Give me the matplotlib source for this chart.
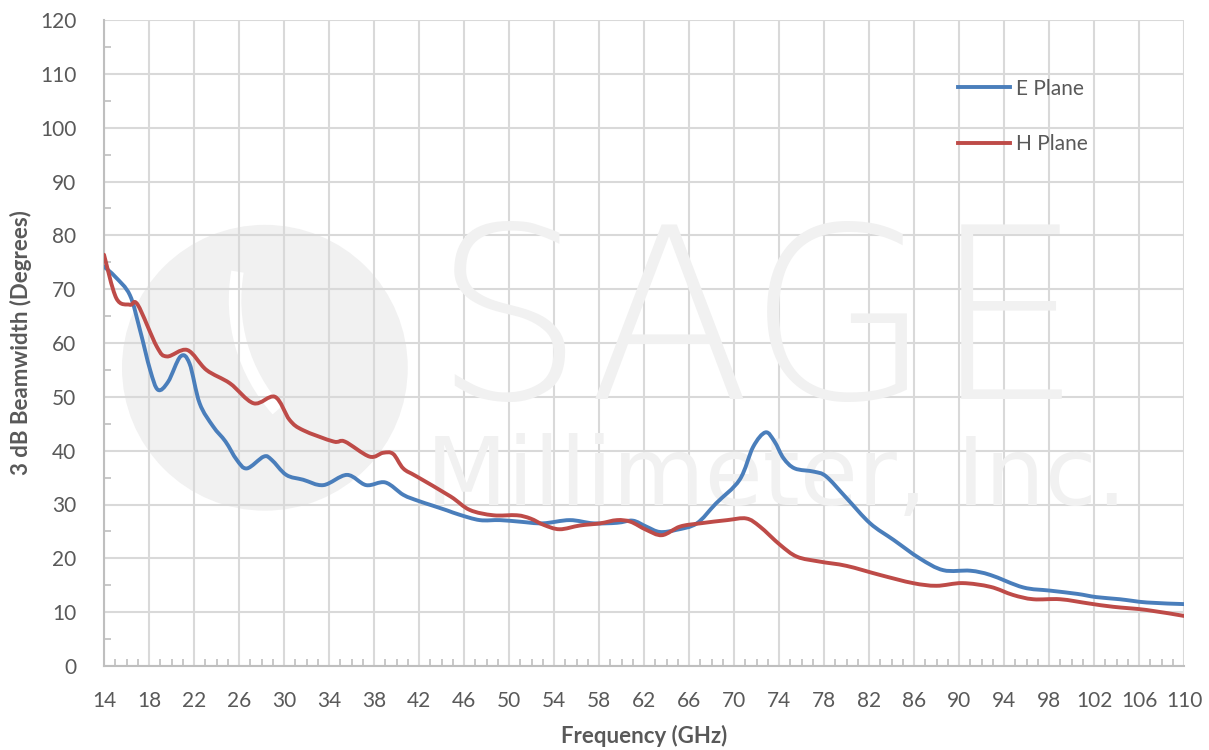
import numpy as np
import matplotlib.pyplot as plt
from matplotlib.patches import Ellipse, Arc, PathPatch
from matplotlib.path import Path
from matplotlib.lines import Line2D
from matplotlib.ticker import MultipleLocator, FixedLocator

# E plane beamwidth
e_freq = [14, 15, 16.3, 17.2, 18.1, 18.8, 19.7, 20.8, 21.6, 22.5, 23.7, 24.8,
          25.8, 26.7, 28.2, 28.9, 30.2, 31.7, 33.5, 35.6, 37.3, 39, 40.6, 41.9,
          43.2, 44.5, 45.6, 47.4, 49.2, 51, 53, 55.4, 57.5, 59.6, 61, 62.2,
          63.4, 64.9, 66.7, 68.4, 70.5, 71.7, 72.8, 73.6, 74.4, 75.4, 77.1,
          78.2, 80, 82.1, 84.2, 86.5, 88.6, 91, 92.8, 95.7, 98.1, 100.5, 102.2,
          104.3, 106.7, 110]
e_bw = [74.2, 72.3, 68.9, 62.4, 55, 51.3, 52.8, 57.5, 56.2, 48.8, 44.5, 41.7,
        38.3, 36.7, 38.9, 38.3, 35.5, 34.6, 33.6, 35.5, 33.6, 34.1, 31.8, 30.7,
        29.8, 28.9, 28.1, 27.1, 27.1, 26.8, 26.5, 27.1, 26.5, 26.6, 27.0, 25.9,
        24.9, 25.3, 26.5, 30.2, 34.6, 40.7, 43.4, 41.7, 38.6, 36.7, 36.1,
        35.2, 31.2, 26.5, 23.4, 20.0, 17.8, 17.7, 16.9, 14.6, 14.0, 13.4, 12.8,
        12.4, 11.8, 11.5]

# H plane beamwidth
h_freq = [14, 15.1, 16.3, 17, 18.7, 19.6, 21.4, 23.1, 25.2, 27.3, 29.2, 30.5,
          31.7, 34.4, 35.4, 37.6, 38.8, 39.7, 40.6, 41.8, 44.8, 46.5, 48.6,
          50.7, 51.9, 53.1, 54.5, 56.3, 58.1, 59.6, 60.8, 62.2, 63.6, 65.2,
          67, 69.4, 71.1, 72.3, 74.1, 75.6, 77.6, 80, 83, 85.9, 88, 90.3, 92.8,
          94.8, 96.6, 99, 101.6, 103.7, 106.7, 110]
h_bw = [76.4, 68.3, 67.1, 67.1, 59.3, 57.5, 58.7, 55, 52.5, 48.8, 50, 45.7,
        43.8, 41.7, 41.7, 38.9, 39.6, 39.4, 36.7, 35.2, 31.5, 29, 28, 28, 27.4,
        26.2, 25.4, 26.1, 26.5, 27.1, 26.8, 25.3, 24.3, 25.9, 26.5, 27.1, 27.4,
        25.9, 22.5, 20.3, 19.4, 18.6, 16.9, 15.4, 14.9, 15.4, 14.7, 13.2, 12.4,
        12.4, 11.6, 11.0, 10.4, 9.3]

x_ticks = list(range(14, 111, 4))

txt = '#595959'
grid = '#d9d9d9'
blue = '#4a7ebb'
red = '#be4b48'
wm = '#f1f1f1'
plt.rcParams['font.family'] = ['Lato', 'DejaVu Sans']


def smooth_path(x, y):
    # excel style smoothed line: bezier segments through the read points
    pts = np.column_stack([x, y])
    n = len(pts)
    verts = [pts[0]]
    codes = [Path.MOVETO]
    for i in range(n - 1):
        p0 = pts[max(i - 1, 0)]
        p1 = pts[i]
        p2 = pts[i + 1]
        p3 = pts[min(i + 2, n - 1)]
        verts += [p1 + (p2 - p0) / 6, p2 - (p3 - p1) / 6, p2]
        codes += [Path.CURVE4] * 3
    return Path(verts, codes)


fig = plt.figure(figsize=(12.09, 7.5), dpi=100)
ax = fig.add_axes([104/1209, 1-666/750, 1080/1209, 646/750])
ax.set_xlim(14, 110)
ax.set_ylim(0, 120)

# faint company watermark (logo + name)
ax.add_patch(Ellipse((28.3, 55.4), 25.4, 53.1, color=wm, lw=0, zorder=0))
ax.add_patch(Arc((40.3, 68.0), 29.3, 61.3, theta1=160, theta2=242, color='white',
                 lw=9, zorder=0.5))
ax.text(72.2, 49.6, 'SAGE', fontsize=172, color=wm, ha='center', va='baseline',
        family='DejaVu Sans', fontweight='light', zorder=0.6)
ax.text(73.8, 30.0, 'Millimeter, Inc.', fontsize=68, color=wm, ha='center',
        va='baseline', family='DejaVu Sans', fontweight='normal', zorder=0.6)

ax.add_patch(PathPatch(smooth_path(e_freq, e_bw), fill=False, edgecolor=blue,
                       lw=2.8, capstyle='round', joinstyle='round', zorder=3))
ax.add_patch(PathPatch(smooth_path(h_freq, h_bw), fill=False, edgecolor=red,
                       lw=2.8, capstyle='round', joinstyle='round', zorder=3))

ax.xaxis.set_major_locator(FixedLocator(x_ticks))
ax.xaxis.set_minor_locator(MultipleLocator(1))
ax.yaxis.set_major_locator(MultipleLocator(10))
ax.yaxis.set_minor_locator(MultipleLocator(5))
ax.grid(True, which='major', color=grid, lw=1.5, zorder=1)
ax.set_axisbelow(True)

for s in ['top', 'right']:
    ax.spines[s].set_visible(False)
for s in ['left', 'bottom']:
    ax.spines[s].set_color('#bfbfbf')
    ax.spines[s].set_linewidth(1.5)

ax.tick_params(which='major', length=0, labelsize=15, labelcolor=txt)
ax.tick_params(which='minor', direction='in', length=5, color='#bfbfbf', width=1.2)
ax.tick_params(axis='x', which='major', pad=18)
ax.tick_params(axis='y', which='major', pad=20)

ax.set_xlabel('Frequency (GHz)', fontsize=16, fontweight='bold', color=txt, labelpad=10)
ax.set_ylabel('3 dB Beamwidth (Degrees)', fontsize=16, fontweight='bold', color=txt,
              labelpad=6)

handles = [Line2D([], [], color=blue, lw=2.8), Line2D([], [], color=red, lw=2.8)]
ax.legend(handles, ['E Plane', 'H Plane'], loc='upper left',
          bbox_to_anchor=(0.7907, 0.909), frameon=False, fontsize=15,
          handlelength=2.5, handletextpad=0.3, labelspacing=1.7,
          borderaxespad=0, borderpad=0, labelcolor=txt)

fig.savefig('out.png', dpi=100, facecolor='white')
